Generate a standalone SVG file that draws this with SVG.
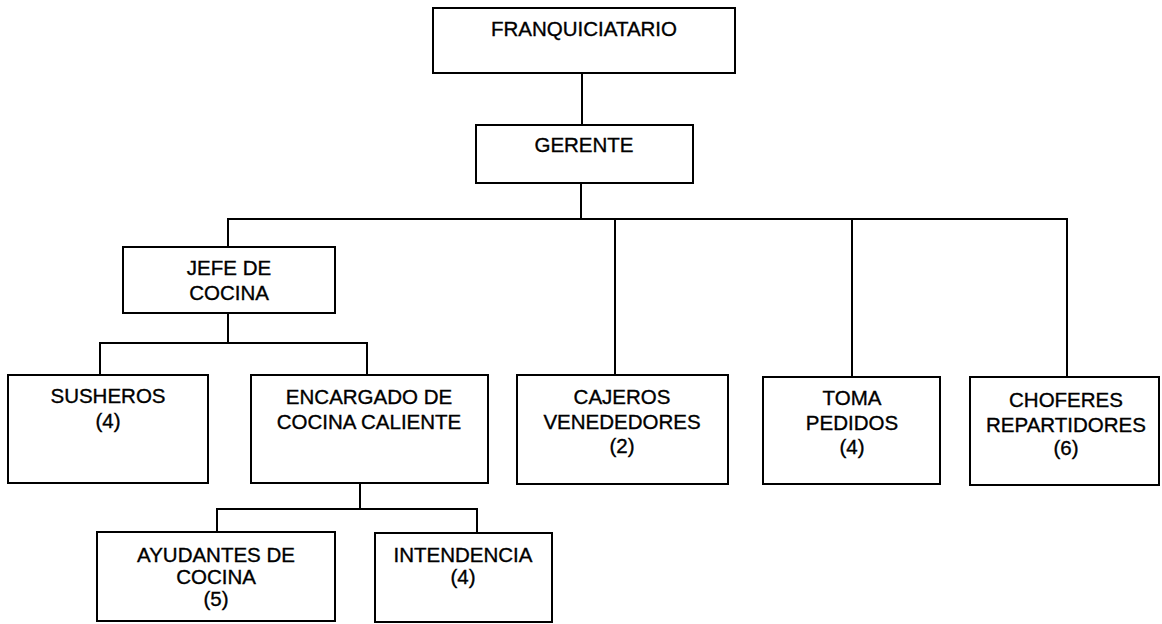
<svg xmlns="http://www.w3.org/2000/svg" width="1162" height="624" viewBox="0 0 1162 624">
<style>
.box{fill:#fff;stroke:#000;stroke-width:2}
.ln{fill:none;stroke:#000;stroke-width:2}
text{font-family:"Liberation Sans",Arial,sans-serif;font-size:20.5px;fill:#000;stroke:#000;stroke-width:0.35;text-anchor:middle}
</style>
<rect width="1162" height="624" fill="#fff"/>
<g id="connectors">
<path class="ln" d="M582 73V125"/>
<path class="ln" d="M581 183V219"/>
<path class="ln" d="M228 247V219H1067V377"/>
<path class="ln" d="M615 219V375"/>
<path class="ln" d="M852 219V377"/>
<path class="ln" d="M228 313V343"/>
<path class="ln" d="M100 375V343H367V375"/>
<path class="ln" d="M360 483V509"/>
<path class="ln" d="M217 532V509H477V533"/>
</g>
<g id="franquiciatario"><rect class="box" x="433" y="8" width="302" height="65"/><text x="584" y="36">FRANQUICIATARIO</text></g>
<g id="gerente"><rect class="box" x="476" y="125" width="217" height="58"/><text x="584" y="152">GERENTE</text></g>
<g id="jefe"><rect class="box" x="123" y="247" width="212" height="66"/><text x="229" y="275">JEFE DE</text><text x="229" y="300">COCINA</text></g>
<g id="susheros"><rect class="box" x="8" y="375" width="200" height="108"/><text x="108" y="403">SUSHEROS</text><text x="108" y="428">(4)</text></g>
<g id="encargado"><rect class="box" x="251" y="375" width="237" height="108"/><text x="369" y="404">ENCARGADO DE</text><text x="369" y="429">COCINA CALIENTE</text></g>
<g id="cajeros"><rect class="box" x="517" y="375" width="211" height="109"/><text x="622" y="404">CAJEROS</text><text x="622" y="429">VENEDEDORES</text><text x="622" y="453">(2)</text></g>
<g id="toma"><rect class="box" x="763" y="377" width="177" height="107"/><text x="852" y="405">TOMA</text><text x="852" y="430">PEDIDOS</text><text x="852" y="454">(4)</text></g>
<g id="choferes"><rect class="box" x="970" y="377" width="189" height="108"/><text x="1066" y="407">CHOFERES</text><text x="1066" y="432">REPARTIDORES</text><text x="1066" y="455">(6)</text></g>
<g id="ayudantes"><rect class="box" x="97" y="532" width="238" height="89"/><text x="216" y="562">AYUDANTES DE</text><text x="216" y="584">COCINA</text><text x="216" y="606">(5)</text></g>
<g id="intendencia"><rect class="box" x="375" y="533" width="177" height="89"/><text x="463" y="562">INTENDENCIA</text><text x="463" y="584">(4)</text></g>
</svg>
